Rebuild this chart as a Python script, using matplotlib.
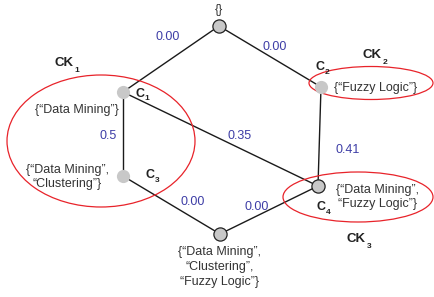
import matplotlib
matplotlib.use('Agg')
import matplotlib.pyplot as plt
from matplotlib.patches import Ellipse

plt.rcParams['font.family'] = ['Liberation Sans', 'DejaVu Sans']

# ---------- lattice data ----------
node_names = ['top', 'C1', 'C2', 'C3', 'C4', 'bottom']
node_x = [219, 123, 321, 123, 318, 220]
node_y = [26, 92, 87, 176, 186, 234]
node_edged = [True, False, False, False, True, True]

edges = [('top', 'C1'), ('top', 'C2'), ('C1', 'C3'), ('C1', 'C4'),
         ('C2', 'C4'), ('C3', 'bottom'), ('C4', 'bottom')]
edge_weights = ['0.00', '0.00', '0.5', '0.35', '0.41', '0.00', '0.00']
weight_pos = [(168, 37), (275, 47), (108, 136), (240, 136), (348, 150),
              (193, 202), (257, 207)]

node_sets = ['{}', '{\u201cData Mining\u201d}', '{\u201cFuzzy Logic\u201d}',
             '{\u201cData Mining\u201d,\n\u201cClustering\u201d}',
             '{\u201cData Mining\u201d,\n\u201cFuzzy Logic\u201d}',
             '{\u201cData Mining\u201d,\n\u201cClustering\u201d,\n\u201cFuzzy Logic\u201d}']
set_pos = [(219, 10), (77, 110), (376, 88), (67, 177), (378, 197), (220, 267)]

name_pos = [(140, 94), (320, 67), (150, 175), (321, 207)]

clusters = ['CK', 'CK', 'CK']
cluster_idx = ['1', '2', '3']
cluster_pos = [(64, 63), (372, 55), (356, 239)]
# ellipse: center x, center y, width, height
ellipses = [(101, 141, 188, 132), (371, 83, 124, 33), (358, 197, 150, 50)]

pos = dict(zip(node_names, zip(node_x, node_y)))

fig = plt.figure(figsize=(4.34, 2.97), dpi=100)
ax = fig.add_axes([0, 0, 1, 1])
ax.set_xlim(0, 434)
ax.set_ylim(297, 0)
ax.axis('off')

for (a, b) in edges:
    ax.plot([pos[a][0], pos[b][0]], [pos[a][1], pos[b][1]], color='#1a1a1a',
            lw=1.0, zorder=1)

for x, y, e in zip(node_x, node_y, node_edged):
    ax.plot(x, y, 'o', markersize=9.5, color='#c8c8c8',
            markeredgecolor='#222222' if e else '#c8c8c8',
            markeredgewidth=0.9 if e else 0, zorder=3)

for w, (x, y) in zip(edge_weights, weight_pos):
    ax.text(x, y, w, color='#3d3da6', fontsize=9, ha='center', va='center')

for s, (x, y) in zip(node_sets, set_pos):
    ax.text(x, y, s, color='#333333', fontsize=9, ha='center', va='center',
            linespacing=1.3)

# node names C1..C4
for i, (x, y) in enumerate(name_pos):
    ax.text(x, y, 'C', fontsize=9, fontweight='bold', color='#222222',
            ha='center', va='center')
    ax.text(x + 7, y + 5, str(i + 1), fontsize=6, fontweight='bold',
            color='#222222', ha='center', va='center')

for c, n, (x, y) in zip(clusters, cluster_idx, cluster_pos):
    ax.text(x, y, c, fontsize=9.5, fontweight='bold', color='#222222',
            ha='center', va='center')
    ax.text(x + 13, y + 7, n, fontsize=6, fontweight='bold', color='#222222',
            ha='center', va='center')

for cx, cy, w, h in ellipses:
    ax.add_patch(Ellipse((cx, cy), w, h, fill=False, edgecolor='#e8232a',
                         lw=0.9, zorder=2))

fig.savefig('out.png', dpi=100)
